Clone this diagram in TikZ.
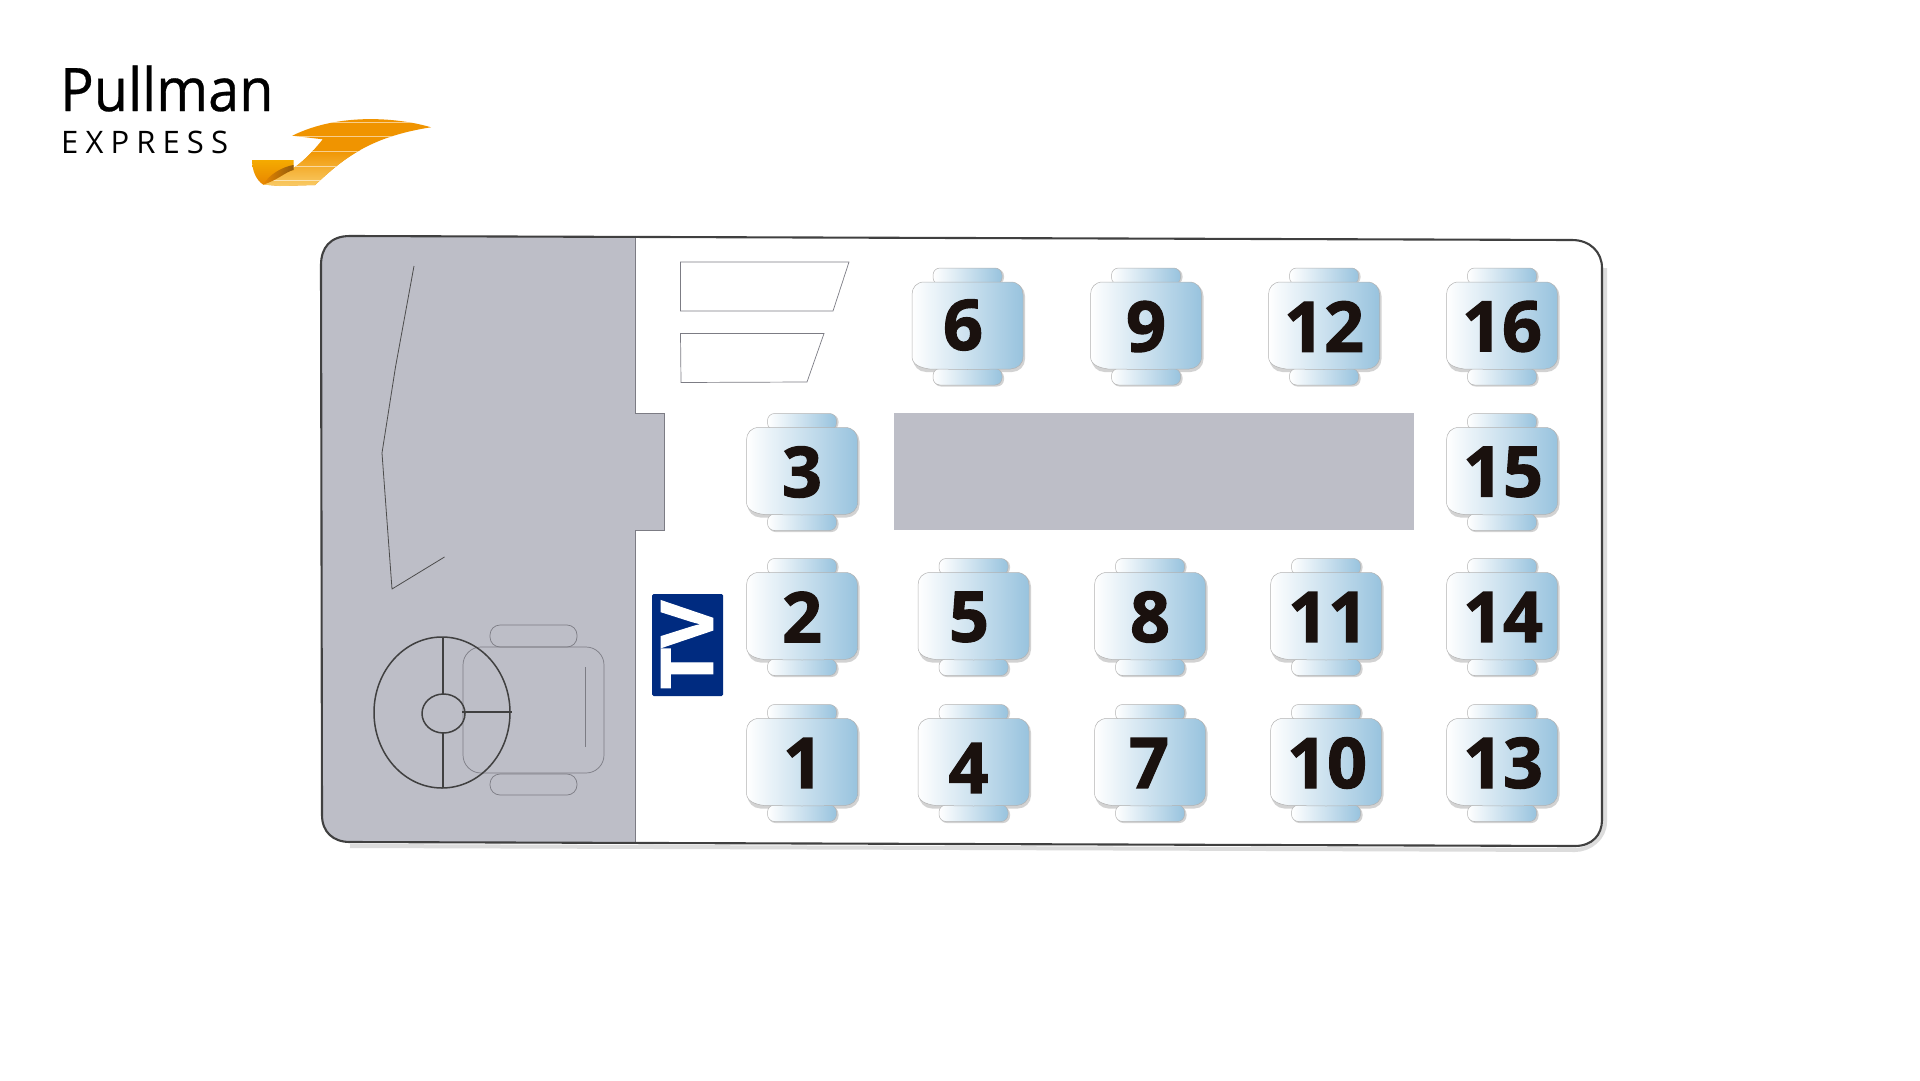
\documentclass[tikz,border=0pt]{standalone}
\usepackage{fontspec}
\setmainfont{Open Sans}
\newfontfamily\numfont[FakeBold=1.6]{Open Sans Bold}
\newfontfamily\namefont[FakeStretch=.93,FakeBold=.5]{Open Sans}
\definecolor{seatblue}{HTML}{98C3DE}
\definecolor{areagrey}{HTML}{BDBEC7}
\definecolor{edgegrey}{HTML}{7C7C84}
\definecolor{digitink}{HTML}{1A110E}
\definecolor{tvblue}{HTML}{002B80}
\definecolor{logoorange}{HTML}{F09400}
\definecolor{logoyellow}{HTML}{F9CC68}
\definecolor{foldtop}{HTML}{F5AB00}
\definecolor{foldlow}{HTML}{E88600}
\definecolor{folddark}{HTML}{7A4A10}
\tikzset{
  seatpart/.style={draw=black!30,line width=.5pt,left color=white,right color=seatblue},
  seatshadow/.style={fill=black!35,opacity=.5},
  seatnum/.style={text=digitink,font=\fontsize{70}{70}\numfont,inner sep=0pt,anchor=center},
  thinline/.style={draw=edgegrey,line width=.7pt},
  wheel/.style={draw=black!75,line width=1.5pt},
  busline/.style={draw=black!75,line width=2.1pt},
}
\newcommand{\seatat}[5]{%
  \begin{scope}[shift={(#1,#2)}]
    \fill[seatshadow,rounded corners=7pt] (-33.5,-57.5) rectangle (36.5,-42);
    \fill[seatshadow,rounded corners=7pt] (-33.5,44) rectangle (36.5,60);
    \fill[seatshadow,rounded corners=13pt] (-54.5,-43.5) rectangle (57.5,45.5);
    \path[seatpart,rounded corners=7pt] (-34.5,-58.5) rectangle (34.5,-42);
    \path[seatpart,rounded corners=7pt] (-34.5,42) rectangle (34.5,58.5);
    \path[seatpart] (-43,-44.5) -- (43,-44.5) .. controls (51,-44.5) and (55.5,-39) .. (55.5,-32)
       -- (55.5,30) .. controls (55.5,38) and (50,42) .. (43,42.5)
       -- (0,43) -- (-38,42.5) .. controls (-48,41) and (-55.5,38) .. (-55.5,30)
       -- (-55.5,-32) .. controls (-55.5,-39) and (-51,-44.5) .. (-43,-44.5) -- cycle;
    \node[seatnum] (seat#3) at (#4,#5) {#3};
  \end{scope}}
\begin{document}
\begin{tikzpicture}[x=1pt,y=-1pt]
\useasboundingbox (0,0) rectangle (1920,1081);
\fill[white] (0,0) rectangle (1920,1081);

% logo text
\node[anchor=base west,inner sep=0pt,font=\fontsize{60}{60}\namefont] (logoname) at (60,111) {Pullman};
\node[anchor=base west,inner sep=0pt,font=\fontsize{31}{31}\selectfont\addfontfeature{LetterSpace=23}] (logosub) at (61,153) {EXPRESS};

% logo ribbon
\begin{scope}
  \clip (431,127.3) .. controls (400,118) and (340,112) .. (292.3,135.7) -- (322.7,139.3)
     .. controls (310,155) and (295,172) .. (263,184.5) -- (280,186) -- (315,185)
     .. controls (342,160) and (368,137) .. (431,127.3) -- cycle;
  \fill[logoorange] (250,110) rectangle (440,190);
  \shade[top color=logoorange,bottom color=logoyellow] (250,150) rectangle (440,187);
  \foreach \sy in {122.7,136.7,151.7,166.7,180.7}
    \draw[white,opacity=.55,line width=1pt] (250,\sy) -- (440,\sy);
\end{scope}
\shade[top color=foldtop,bottom color=foldlow] (252,160) -- (293.5,160) -- (293.5,170)
   .. controls (285,172) and (278,180) .. (263,184.5) .. controls (256,180) and (252,170) .. (252,160) -- cycle;
\shade[left color=foldlow,right color=folddark,opacity=.8] (263,184.5) .. controls (270,174) and (282,167) .. (293.5,165) -- (293.5,170)
   .. controls (285,172) and (278,180) .. (263,184.5) -- cycle;

% bus shadow
\draw[black!45,opacity=.3,line width=4pt,line join=round] (1605,268) -- (1605,822) .. controls (1605,838) and (1590,850) .. (1575,850) -- (350,846);

% grey area
\fill[areagrey] (350,236) .. controls (330,236) and (321,248) .. (321,265) -- (322,815)
   .. controls (322,832) and (333,842) .. (350,842) -- (635.5,842) -- (635.5,530) -- (664.5,530)
   -- (664.5,413) -- (635.5,413) -- (635.5,237) -- cycle;
\draw[thinline,line width=1pt] (635.5,237) -- (635.5,413) -- (664.5,413) -- (664.5,530) -- (635.5,530) -- (635.5,842);

% bus outline
\draw[busline,line join=round] (350,236) .. controls (330,236) and (321,248) .. (321,265) -- (322,815)
   .. controls (322,832) and (333,842) .. (350,842) -- (1575,846)
   .. controls (1592,846) and (1602,835) .. (1602,820) -- (1602,268)
   .. controls (1602,252) and (1590,240) .. (1572,240) -- cycle;

% grey rectangle
\fill[areagrey] (894,413) rectangle (1414,530);

% trapezoids
\draw[thinline] (680.5,262) -- (849,262) -- (833,311) -- (680.5,311) -- cycle;
\draw[thinline] (680.5,333.5) -- (824,333.5) -- (807,382) -- (681,382.5) -- cycle;

% windshield
\draw[draw=black!70,line width=.8pt,line join=round] (414,266) -- (395.5,367) -- (382,453) -- (392,589) -- (444.5,557);

% driver seat
\draw[thinline,rounded corners=18pt] (463,647) rectangle (604,773);
\draw[thinline,rounded corners=10pt] (490,625) rectangle (577,647);
\draw[thinline,rounded corners=10pt] (490,774) rectangle (577,795);
\draw[thinline] (585,667) -- (585,747);

% wheel
\draw[wheel] (442,712.5) ellipse [x radius=68,y radius=75.5];
\draw[wheel] (443.5,713.5) ellipse [x radius=21.5,y radius=19.5];
\draw[wheel] (443,637) -- (443,694);
\draw[wheel] (443,733) -- (443,788);
\draw[wheel] (462,712) -- (512,712);

% TV
\fill[tvblue,rounded corners=1.5pt] (652,594) rectangle (723,696);
\node[rotate=90,text=white,inner sep=0pt,font=\fontsize{72}{72}\numfont] (tv) at (687,645) {TV};

% seats
\seatat{967.5}{326.5}{6}{-4.5}{-1.5}
\seatat{1146}{326.5}{9}{0}{0}
\seatat{1324}{326.5}{12}{0}{0}
\seatat{1502}{326.5}{16}{0}{0}
\seatat{802}{472}{3}{0}{0}
\seatat{1502}{472}{15}{1}{0}
\seatat{802}{617}{2}{0}{0}
\seatat{973.5}{617}{5}{-4.5}{0}
\seatat{1150}{617}{8}{0}{0}
\seatat{1326}{617}{11}{2}{0}
\seatat{1502}{617}{14}{1}{0}
\seatat{802}{763}{1}{1}{0}
\seatat{973.5}{763}{4}{-5}{5}
\seatat{1150}{763}{7}{-1}{0}
\seatat{1326}{763}{10}{1}{0}
\seatat{1502}{763}{13}{1}{0}
\end{tikzpicture}
\end{document}
